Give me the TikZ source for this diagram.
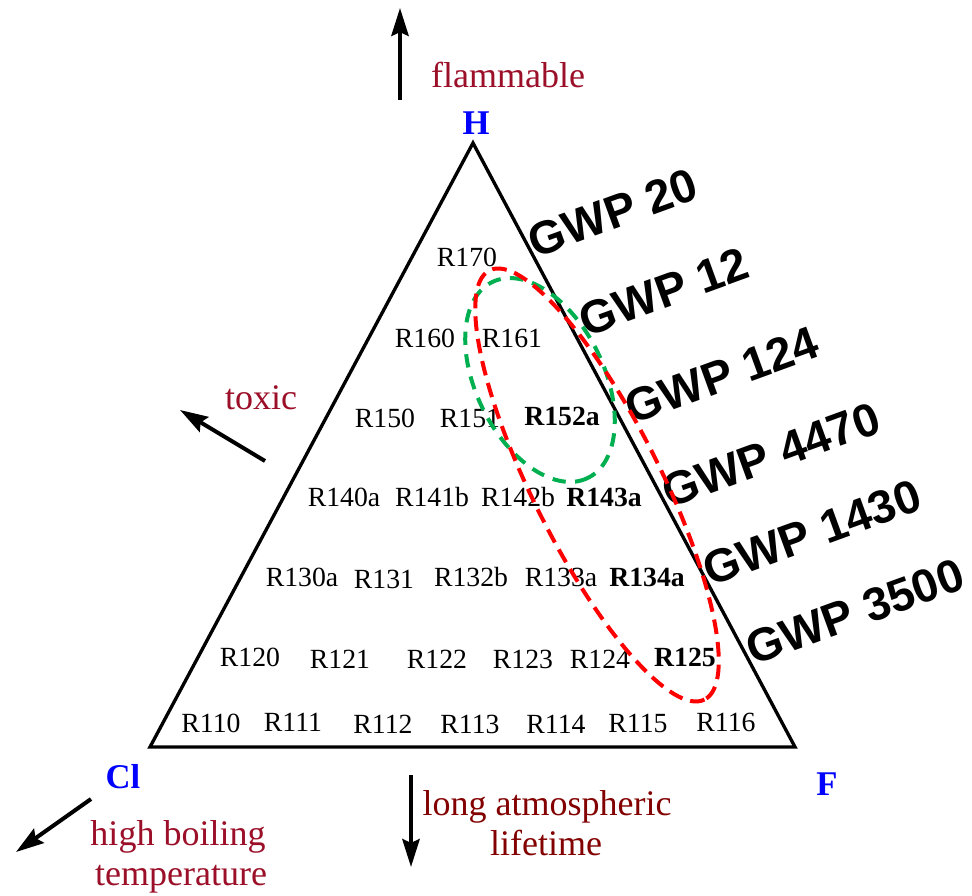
\documentclass[tikz,border=0pt]{standalone}
\usepackage{fontspec}
\setmainfont{Liberation Serif}
\newfontfamily\gwpfont{Liberation Sans}
\usetikzlibrary{arrows.meta}
\definecolor{lblred}{RGB}{155,15,40}
\definecolor{lblmaroon}{RGB}{130,0,0}
\definecolor{vblue}{RGB}{0,0,255}
\definecolor{ellred}{RGB}{255,0,0}
\definecolor{ellgreen}{RGB}{0,176,80}
\begin{document}
\begin{tikzpicture}[x=0.75pt,y=-0.75pt,
  rl/.style={inner sep=0pt, font=\fontsize{20.8}{24}\selectfont},
  rb/.style={inner sep=0pt, font=\fontsize{20.8}{24}\selectfont\bfseries},
  vtx/.style={inner sep=0pt, anchor=base, text=vblue, font=\fontsize{26}{30}\selectfont\bfseries},
  prop/.style={inner sep=0pt, anchor=base, text=lblred, font=\fontsize{27}{30}\selectfont},
  gwp/.style={inner sep=0pt, rotate=20, font=\fontsize{34.9}{40}\selectfont\gwpfont\bfseries},
  tri/.style={line width=2.5pt, line join=miter},
  bigarrow/.style={line width=3pt, -{Stealth[length=21pt,width=13pt,inset=3pt]}},
  ellr/.style={ellred, line width=3pt, dash pattern=on 11pt off 6pt},
  ellg/.style={ellgreen, line width=3pt, dash pattern=on 10pt off 7pt}]
\useasboundingbox (0,0) rectangle (972,896);
% triangle
\coordinate (H) at (473,143);
\coordinate (Cl) at (150,747);
\coordinate (F) at (795,747);
\draw[tri] (H) -- (F) -- (Cl) -- cycle;
% vertex labels
\node[vtx] (hlab) at (476,134) {H};
\node[vtx] (cllab) at (123,788) {Cl};
\node[vtx] (flab) at (827,795) {F};
% property labels
\node[prop] (flam) at (508,87) {flammable};
\node[prop] (tox) at (261,409) {toxic};
\node[prop] (hb1) at (178,845) {high boiling};
\node[prop] (hb2) at (181,885) {temperature};
\node[prop, text=lblmaroon] (la1) at (547,815) {long atmospheric};
\node[prop, text=lblmaroon] (la2) at (546,855) {lifetime};
% arrows
\coordinate (upA) at (400,100); \coordinate (upB) at (400,8);
\coordinate (toxA) at (265,461); \coordinate (toxB) at (180,410);
\coordinate (clA) at (91,799); \coordinate (clB) at (16,852);
\coordinate (dnA) at (411,775); \coordinate (dnB) at (411,867);
\draw[bigarrow] (upA) -- (upB);
\draw[bigarrow] (toxA) -- (toxB);
\draw[bigarrow] (clA) -- (clB);
\draw[bigarrow] (dnA) -- (dnB);
% refrigerant labels
\node[rl] (r170) at (467,257) {R170};
\node[rl] (r160) at (425,338) {R160};
\node[rl] (r161) at (512,338) {R161};
\node[rl] (r150) at (385,418) {R150};
\node[rl] (r151) at (470,418) {R151};
\node[rb] (r152a) at (562,416) {R152a};
\node[rl] (r140a) at (344,497) {R140a};
\node[rl] (r141b) at (432,497) {R141b};
\node[rl] (r142b) at (518,497) {R142b};
\node[rb] (r143a) at (604,497) {R143a};
\node[rl] (r130a) at (302,577) {R130a};
\node[rl] (r131) at (384,579) {R131};
\node[rl] (r132b) at (471,577) {R132b};
\node[rl] (r133a) at (561,577) {R133a};
\node[rb] (r134a) at (647,577) {R134a};
\node[rl] (r120) at (250,657) {R120};
\node[rl] (r121) at (340,659) {R121};
\node[rl] (r122) at (437,659) {R122};
\node[rl] (r123) at (523,659) {R123};
\node[rl] (r124) at (600,659) {R124};
\node[rb] (r125) at (685,657) {R125};
\node[rl] (r110) at (211,723) {R110};
\node[rl] (r111) at (293,722) {R111};
\node[rl] (r112) at (383,724) {R112};
\node[rl] (r113) at (470,724) {R113};
\node[rl] (r114) at (556,724) {R114};
\node[rl] (r115) at (638,723) {R115};
\node[rl] (r116) at (726,722) {R116};
% GWP labels
\node[gwp] (g20) at (613,213) {GWP 20};
\node[gwp] (g12) at (664,292) {GWP 12};
\node[gwp] (g124) at (722,375) {GWP 124};
\node[gwp] (g4470) at (771,455) {GWP 4470};
\node[gwp] (g1430) at (812,533) {GWP 1430};
\node[gwp] (g3500) at (855,612) {GWP 3500};
% ellipses
\coordinate (gc) at (540,380);
\coordinate (rc) at (597,485);
\draw[ellg, rotate around={-64:(gc)}] (gc) ellipse [x radius=109, y radius=64];
\draw[ellr, rotate around={-63.4:(rc)}] (rc) ellipse [x radius=240, y radius=64];
\end{tikzpicture}
\end{document}
